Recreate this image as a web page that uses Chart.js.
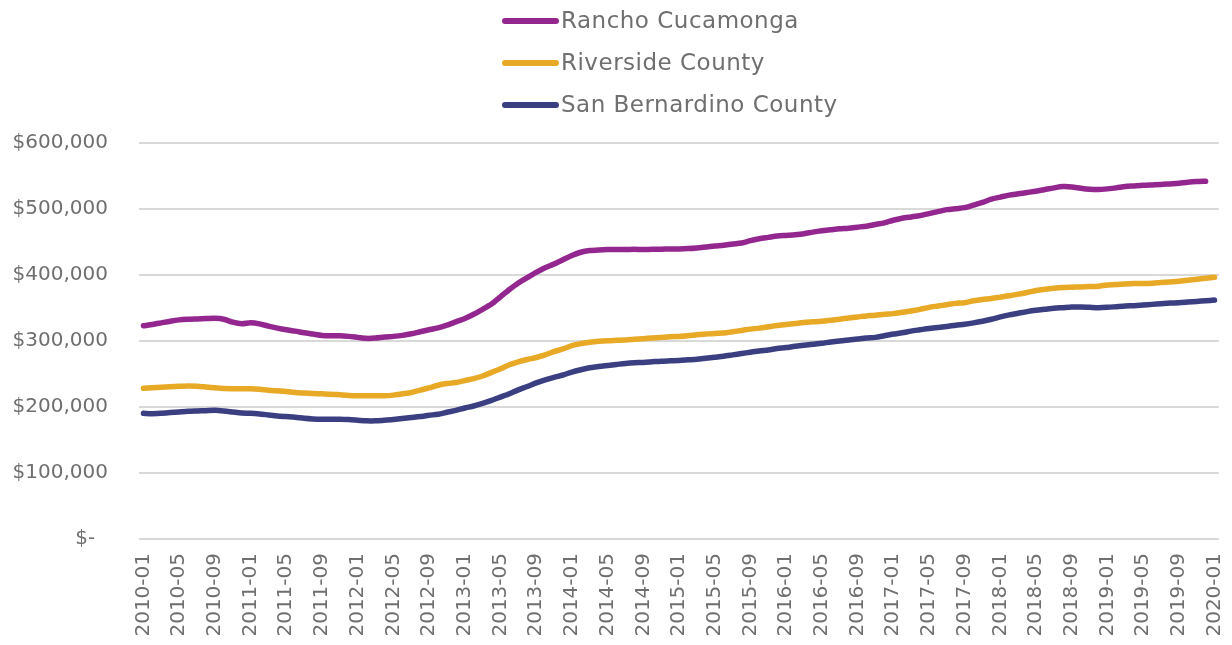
<!DOCTYPE html>
<html>
<head>
<meta charset="utf-8">
<script src="https://cdn.jsdelivr.net/npm/chart.js@4.4.1/dist/chart.umd.min.js"></script>
<style>
  html, body { margin: 0; padding: 0; background: #fff; }
</style>
</head>
<body>
<canvas id="chart" width="1232" height="645"></canvas>
<script>
/* Months 2010-01 .. 2020-01 */
const months = []
for (let y = 2010; y <= 2020; y++) {
  for (let m = 1; m <= 12; m++) {
    if (y === 2020 && m > 1) break
    months.push(y + "-" + String(m).padStart(2, "0"))
  }
}

/* Median home values, one row per year. */
const ranchoCucamonga = [
  323000, 325000, 327500, 330000, 332000, 333000, 333500, 334000, 334500, 333000, 328500, 326000,
  327500, 326000, 322500, 319500, 317000, 315000, 312500, 310500, 308500, 308000, 308000, 307000,
  305500, 304000, 304500, 306000, 307000, 308500, 311000, 314000, 317000, 320000, 324000, 329000,
  334000, 340500, 348000, 356000, 367000, 378000, 388000, 396000, 404000, 411000, 416500, 423000,
  429500, 434500, 437000, 438000, 438500, 438500, 438500, 439000, 438500, 439000, 439000, 439500,
  439500, 440000, 441000, 442500, 444000, 445000, 447000, 448500, 452000, 455000, 457000, 459000,
  460000, 461000, 462500, 465000, 467000, 468500, 470000, 471000, 472500, 474000, 476500, 479000,
  483000, 486000, 488000, 490000, 493000, 496000, 499000, 500500, 502000, 506000, 510000, 515000,
  518000, 521000, 523000, 525000, 527000, 529500, 532000, 534000, 533500, 531500, 530000, 529500,
  530500, 532000, 534000, 535000, 536000, 536500, 537000, 538000, 539000, 540500, 541500, 542000,
  null
]

const riversideCounty = [
  228300, 229000, 229800, 230500, 231300, 231800, 231500, 230300, 229000, 228000, 227800, 227800,
  227800, 227000, 225500, 224500, 223500, 222000, 221200, 220500, 220000, 219500, 218500, 217500,
  217000, 217000, 217000, 217000, 218000, 220000, 222000, 225500, 229000, 233000, 235500, 237000,
  240000, 243000, 247000, 252500, 258000, 264000, 268500, 272000, 275000, 279000, 284000, 288000,
  293000, 296000, 298000, 299500, 300500, 301000, 301500, 302500, 303500, 304500, 305500, 306500,
  307000, 308000, 309500, 310500, 311500, 312000, 314000, 316000, 318000, 319500, 321500, 323500,
  325000, 326500, 328000, 329000, 330000, 331500, 333000, 335000, 336500, 338000, 339000, 340500,
  341500, 343500, 345500, 348000, 351000, 353000, 355000, 357000, 358000, 361000, 363000, 364500,
  366500, 368500, 371000, 373500, 376500, 378500, 380000, 381000, 381500, 382000, 382500, 383000,
  385000, 385500, 386500, 387000, 387000, 387500, 388500, 389500, 390500, 392000, 393500, 395000,
  396500
]

const sanBernardinoCounty = [
  190400, 189800, 190500, 191500, 192500, 193500, 194000, 194500, 195000, 194000, 192500, 191000,
  190500, 189500, 188000, 186500, 185500, 184500, 183000, 182000, 181500, 181500, 181500, 181000,
  180000, 179000, 179000, 180000, 181000, 182500, 184000, 185500, 187500, 189000, 192000, 195000,
  198500, 201500, 205500, 210000, 215000, 220000, 226000, 231000, 236500, 241000, 245000, 248500,
  253000, 256500, 259500, 261500, 263000, 264500, 266000, 267000, 267500, 268500, 269500, 270000,
  270500, 271500, 272500, 274000, 275500, 277000, 279000, 281000, 283000, 285000, 286500, 288500,
  290000, 292000, 293500, 295000, 296500, 298500, 300000, 301500, 303000, 304500, 305500, 308000,
  310500, 312500, 315000, 317000, 319000, 320500, 322000, 324000, 325500, 327500, 330000, 333000,
  336500, 339500, 342000, 344500, 346500, 348000, 349500, 350500, 351500, 351500, 351000, 350500,
  351000, 352000, 353000, 353500, 354500, 355500, 356500, 357500, 358000, 359000, 360000, 361000,
  362000
]

const yTicks = [0, 100000, 200000, 300000, 400000, 500000, 600000]

const textGray = "#6f6f6f"
const fontFamily = "'DejaVu Sans', sans-serif"

/* Legend stacked in three rows above the plot. */
const legendRows = {
  id: "legendRows",
  afterDraw(chart) {
    const ctx = chart.ctx
    ctx.save()
    chart.data.datasets.forEach((ds, i) => {
      const y = 21 + i * 42
      ctx.strokeStyle = ds.borderColor
      ctx.lineWidth = 6
      ctx.lineCap = "round"
      ctx.beginPath()
      ctx.moveTo(505, y)
      ctx.lineTo(556, y)
      ctx.stroke()
      ctx.fillStyle = textGray
      ctx.font = "23px " + fontFamily
      ctx.letterSpacing = "0.5px"
      ctx.textBaseline = "middle"
      ctx.fillText(ds.label, 561, y + 1)
    })
    ctx.restore()
  }
}

const lineStyle = {
  borderWidth: 5.5,
  pointRadius: 0,
  tension: 0.25,
  borderCapStyle: "round",
  borderJoinStyle: "round",
  fill: false
}

const ctx = document.getElementById("chart").getContext("2d")
const chart = new Chart(ctx, {
  type: "line",
  data: {
    labels: months,
    datasets: [{
      label: "Rancho Cucamonga",
      data: ranchoCucamonga,
      borderColor: "#93278f",
      ...lineStyle
    }, {
      label: "Riverside County",
      data: riversideCounty,
      borderColor: "#e8a927",
      ...lineStyle
    }, {
      label: "San Bernardino County",
      data: sanBernardinoCounty,
      borderColor: "#393f80",
      ...lineStyle
    }]
  },
  options: {
    responsive: false,
    animation: false,
    layout: {
      padding: { top: 143, right: 13, left: 0, bottom: 0 }
    },
    plugins: {
      legend: { display: false },
      tooltip: { enabled: false }
    },
    scales: {
      x: {
        offset: true,
        grid: { display: false },
        border: { display: false },
        afterFit: scale => {
          scale.height = 106
          scale.paddingLeft = 0
          scale.paddingRight = 0
        },
        ticks: {
          autoSkip: false,
          maxRotation: 90,
          minRotation: 90,
          padding: 6,
          color: textGray,
          font: { family: fontFamily, size: 20 },
          callback: (value, index) => index % 4 === 0 ? months[index] : null
        }
      },
      y: {
        min: 0,
        max: 600000,
        afterFit: scale => { scale.width = 139 },
        afterBuildTicks: scale => { scale.ticks = yTicks.map(v => ({ value: v })) },
        border: { display: false },
        grid: { color: "#d9d9d9", lineWidth: 2, drawTicks: false },
        ticks: {
          padding: 31,
          color: textGray,
          font: { family: fontFamily, size: 20 },
          callback: v => v === 0 ? "$-  " : "$" + v.toLocaleString("en-US")
        }
      }
    }
  },
  plugins: [legendRows]
})
</script>
</body>
</html>
